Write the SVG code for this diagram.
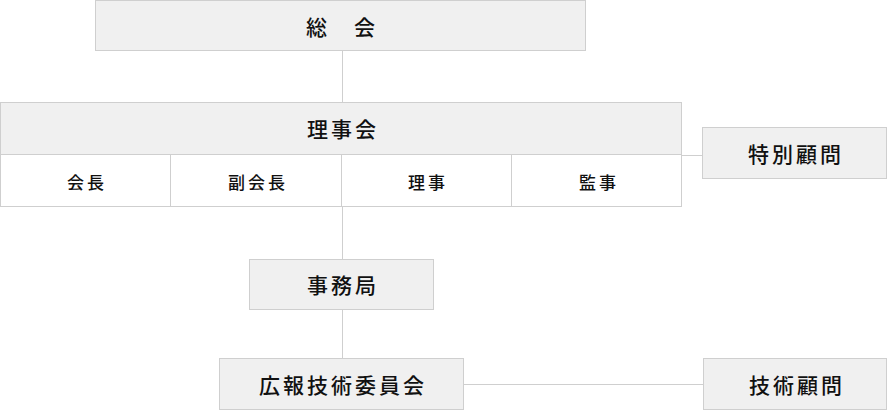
<svg xmlns="http://www.w3.org/2000/svg" width="887" height="410" viewBox="0 0 887 410">
<style>
.b{fill:#f0f0f0;stroke:#cfcfcf;stroke-width:1}
.w{fill:#fff;stroke:#cfcfcf;stroke-width:1}
.t{font-family:"Noto Sans CJK JP",sans-serif;font-size:21px;font-weight:500;fill:#111;text-anchor:middle;dominant-baseline:central;letter-spacing:3px}
.s{font-family:"Noto Sans CJK JP",sans-serif;font-size:17px;font-weight:500;fill:#111;text-anchor:middle;dominant-baseline:central;letter-spacing:3px}
.c{stroke:#cfcfcf;stroke-width:1;fill:none}
</style>
<rect width="887" height="410" fill="#fff"/>
<g id="connectors" class="c">
<line x1="342.5" y1="50" x2="342.5" y2="102"/>
<line x1="342.5" y1="207" x2="342.5" y2="259"/>
<line x1="342.5" y1="309" x2="342.5" y2="358"/>
<line x1="681" y1="155.5" x2="702" y2="155.5"/>
<line x1="463" y1="384.5" x2="703" y2="384.5"/>
</g>
<g id="soukai"><rect class="b" x="95.5" y="0.5" width="490" height="50"/><text class="t" x="342" y="26">総　会</text></g>
<g id="rijikai">
<rect class="b" x="0.5" y="102.5" width="681" height="52"/><text class="t" x="343" y="128">理事会</text>
<rect class="w" x="0.5" y="154.5" width="170" height="52"/><text class="s" x="87" y="181">会長</text>
<rect class="w" x="170.5" y="154.5" width="171" height="52"/><text class="s" x="258" y="181">副会長</text>
<rect class="w" x="341.5" y="154.5" width="170" height="52"/><text class="s" x="428" y="181">理事</text>
<rect class="w" x="511.5" y="154.5" width="170" height="52"/><text class="s" x="599" y="181">監事</text>
</g>
<g id="tokubetsu"><rect class="b" x="702.5" y="127.5" width="184" height="51"/><text class="t" x="796" y="153">特別顧問</text></g>
<g id="jimukyoku"><rect class="b" x="249.5" y="259.5" width="184" height="50"/><text class="t" x="343" y="284">事務局</text></g>
<g id="kouhou"><rect class="b" x="219.5" y="358.5" width="244" height="51"/><text class="t" x="343" y="384">広報技術委員会</text></g>
<g id="gijutsu"><rect class="b" x="703.5" y="358.5" width="183" height="51"/><text class="t" x="797" y="384">技術顧問</text></g>
</svg>
